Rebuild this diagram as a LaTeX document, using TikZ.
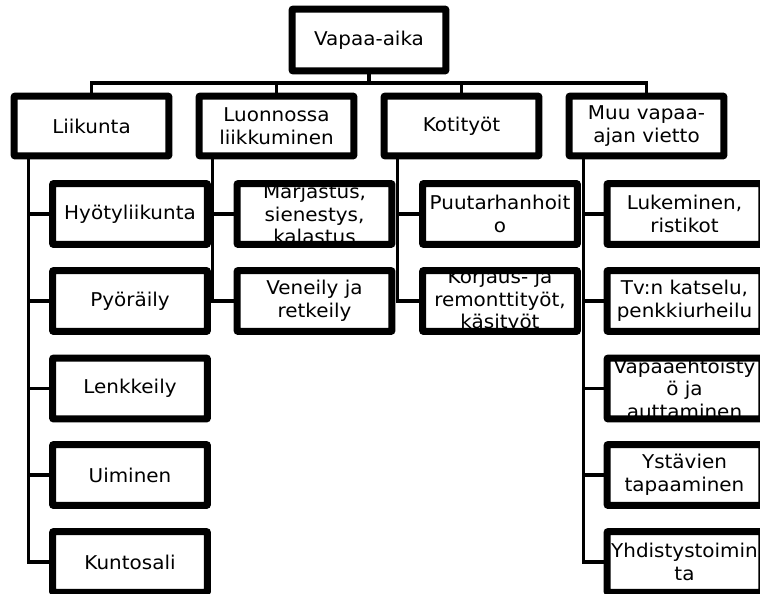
\documentclass[tikz,border=0pt]{standalone}
\usepackage{fontspec}
\setmainfont[FakeStretch=1.05]{DejaVu Sans}
\usetikzlibrary{shadows}

\tikzset{
  boxshape/.style={fill=white, draw=black, line width=4.6pt, rounded corners=2pt,
    inner sep=0pt,
    drop shadow={opacity=0.18, shadow xshift=1.5pt, shadow yshift=-2pt}},
  topbox/.style={boxshape, minimum width=151.5pt, minimum height=59.5pt},
  catbox/.style={boxshape, minimum width=152.5pt, minimum height=57.5pt},
  leafbox/.style={boxshape, minimum width=152.5pt, minimum height=58.5pt},
  conn/.style={line width=3.3pt, draw=black},
  boxtext/.style={align=center, font=\fontsize{19}{22.5}\selectfont, text=black, inner sep=0pt},
}

% box with text that is clipped to the frame, frame redrawn on top
\newcommand\mkbox[5]{%
  \node[#2] (#1) at (#3,#4) {};
  \begin{scope}
    \clip (#1.south west) rectangle (#1.north east);
    \node[boxtext] at (#1.center) {#5};
  \end{scope}
  \draw[line width=4.6pt, rounded corners=2pt] (#1.south west) rectangle (#1.north east);
}

\begin{document}
\begin{tikzpicture}[x=1pt, y=-1pt]
\fill[white] (0,0) rectangle (760,594);
\useasboundingbox (0,0) rectangle (760,594);

\coordinate (bus) at (369,83);

% root
\mkbox{top}{topbox}{369}{40}{Vapaa-aika}

% categories
\mkbox{la}{catbox}{91.5}{126}{Liikunta}
\mkbox{lb}{catbox}{276.5}{126}{Luonnossa\\liikkuminen}
\mkbox{lc}{catbox}{461.5}{126}{Kotityöt}
\mkbox{ld}{catbox}{646.5}{126}{Muu vapaa-\\ajan vietto}

% tree lines from root to categories
\draw[conn] (top.south) -- (bus);
\foreach \n in {la,lb,lc,ld}
  \draw[conn] (\n.north) |- (bus);

% spines below the categories
\coordinate (sa) at ([xshift=15.75pt]la.south west);
\coordinate (sb) at ([xshift=14.75pt]lb.south west);
\coordinate (sc) at ([xshift=14.75pt]lc.south west);
\coordinate (sd) at ([xshift=15.75pt]ld.south west);

% leaves
\mkbox{a1}{leafbox}{130}{214}{Hyötyliikunta}
\mkbox{a2}{leafbox}{130}{301}{Pyöräily}
\mkbox{a3}{leafbox}{130}{388.5}{Lenkkeily}
\mkbox{a4}{leafbox}{130}{475}{Uiminen}
\mkbox{a5}{leafbox}{130}{562}{Kuntosali}

\mkbox{b1}{leafbox}{314.5}{214}{Marjastus,\\sienestys,\\kalastus}
\mkbox{b2}{leafbox}{314.5}{301}{Veneily ja\\retkeily}

\mkbox{c1}{leafbox}{500}{214}{Puutarhanhoit\\o}
\mkbox{c2}{leafbox}{500}{301}{Korjaus- ja\\remonttityöt,\\käsityöt}

\mkbox{d1}{leafbox}{684.5}{214}{Lukeminen,\\ristikot}
\mkbox{d2}{leafbox}{684.5}{301}{Tv:n katselu,\\penkkiurheilu}
\mkbox{d3}{leafbox}{684.5}{388.5}{Vapaaehtoisty\\ö ja\\auttaminen}
\mkbox{d4}{leafbox}{684.5}{475}{Ystävien\\tapaaminen}
\mkbox{d5}{leafbox}{684.5}{562}{Yhdistystoimin\\ta}

% connectors from spines to leaves
\foreach \c in {a1,a2,a3,a4,a5}
  \draw[conn] (sa) |- (\c.west);
\foreach \c in {b1,b2}
  \draw[conn] (sb) |- (\c.west);
\foreach \c in {c1,c2}
  \draw[conn] (sc) |- (\c.west);
\foreach \c in {d1,d2,d3,d4,d5}
  \draw[conn] (sd) |- (\c.west);
\end{tikzpicture}
\end{document}
